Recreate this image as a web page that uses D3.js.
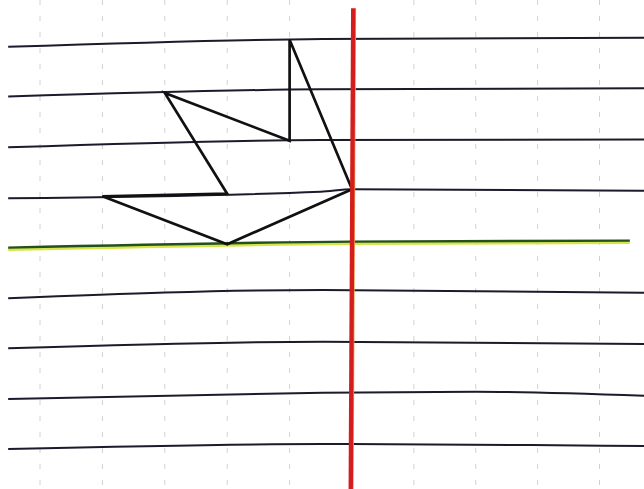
<!DOCTYPE html>
<html>
<head>
<meta charset="utf-8">
<script src="https://cdn.jsdelivr.net/npm/d3@7"></script>
<style>
html,body{margin:0;padding:0;background:#fff;}
svg{display:block;}
</style>
</head>
<body>
<svg id="chart" width="644" height="489"></svg>
<script>
// Grid columns (cell units) for the faint dashed vertical lines
const gridColumns = [0, 1, 2, 3, 4, 6, 7, 8, 9];
// Ruled lines: each row index with measured drift points [column, rowOffset]
const ruledRows = [0, 1, 2, 3, 5, 6, 7, 8];
const ruledDrift = {
  0: [[-0.51, 0.165], [4.53, 0.01], [9.72, -0.015]],
  1: [[-0.51, 0.15], [4.5, 0.006], [9.72, -0.014]],
  2: [[-0.51, 0.155], [4.5, 0.01], [9.72, 0.0]],
  3: [[-0.51, 0.165], [4.5, 0.034], [5.0, -0.014], [9.72, 0.014]],
  4: [[-0.51, 0.15], [5.0, 0.03], [9.49, 0.01]],
  5: [[-0.51, 0.145], [4.53, -0.02], [9.72, 0.034]],
  6: [[-0.51, 0.135], [4.53, 0.003], [9.72, 0.05]],
  7: [[-0.51, 0.14], [4.53, 0.014], [7.0, -0.006], [9.72, 0.073]],
  8: [[-0.51, 0.13], [4.53, 0.03], [7.9, 0.05], [9.72, 0.07]]
};
// Highlighted (green) row
const highlightRow = 4;
// Red margin line: [column, row] at top and bottom
const marginLine = [[5.02, -0.6], [4.98, 8.9]];
// Shape vertices on grid intersections [column, row]
const shapeVertices = [[4, 0], [4, 2], [2, 1], [3, 3], [1, 3], [3, 4], [5, 3]];

const svg = d3.select("#chart");
const W = 644, H = 489;

const x = d3.scaleLinear().domain([0, 5, 9]).range([40, 352, 599.5]);
const y = d3.scaleLinear().domain([0, 8]).range([38.5, 442.5]);

function rowY(row, col) {
  const pts = ruledDrift[row];
  let off = pts[0][1];
  for (let i = 0; i < pts.length - 1; i++) {
    if (col >= pts[i][0] && col <= pts[i + 1][0]) {
      const t = (col - pts[i][0]) / (pts[i + 1][0] - pts[i][0]);
      off = pts[i][1] + t * (pts[i + 1][1] - pts[i][1]);
      break;
    }
    if (col > pts[i + 1][0]) off = pts[i + 1][1];
  }
  return y(row + off);
}

const line = d3.line().x(d => x(d[0])).y(d => d[1]);
const smooth = d3.line().x(d => x(d[0])).y(d => d[1]).curve(d3.curveMonotoneX);

// faint dashed vertical grid
svg.append("g").selectAll("line").data(gridColumns).join("line")
  .attr("x1", d => x(d)).attr("x2", d => x(d))
  .attr("y1", 0).attr("y2", H)
  .attr("stroke", "#d2d2d2").attr("stroke-width", 1)
  .attr("stroke-dasharray", "5,11");

// ruled lines
svg.append("g").selectAll("path").data(ruledRows).join("path")
  .attr("d", r => smooth(ruledDrift[r].map(p => [p[0], y(r + p[1])])))
  .attr("fill", "none").attr("stroke", "#1b1b2c").attr("stroke-width", 2);

// highlighted green line
const hl = ruledDrift[highlightRow].map(p => [p[0], y(highlightRow + p[1])]);
svg.append("path").attr("d", smooth(hl.map(p => [p[0], p[1] + 1.3])))
  .attr("fill", "none").attr("stroke", "#d6e64a").attr("stroke-width", 3.5);
svg.append("path").attr("d", smooth(hl.map(p => [p[0], p[1] - 0.4])))
  .attr("fill", "none").attr("stroke", "#24501c").attr("stroke-width", 2.4);

// shape
svg.append("path")
  .attr("d", line(shapeVertices.map(v => [v[0], rowY(v[1], v[0])])) + "Z")
  .attr("fill", "none").attr("stroke", "#111").attr("stroke-width", 2.7)
  .attr("stroke-linejoin", "miter");

// red margin line
svg.append("line")
  .attr("x1", x(marginLine[0][0]) + 2.3).attr("x2", x(marginLine[1][0]) + 2.3)
  .attr("y1", y(marginLine[0][1])).attr("y2", H)
  .attr("stroke", "#f2a35a").attr("stroke-width", 1.2);
svg.append("line")
  .attr("x1", x(marginLine[0][0])).attr("x2", x(marginLine[1][0]))
  .attr("y1", y(marginLine[0][1])).attr("y2", H)
  .attr("stroke", "#d41e1e").attr("stroke-width", 4.4);
</script>
</body>
</html>
